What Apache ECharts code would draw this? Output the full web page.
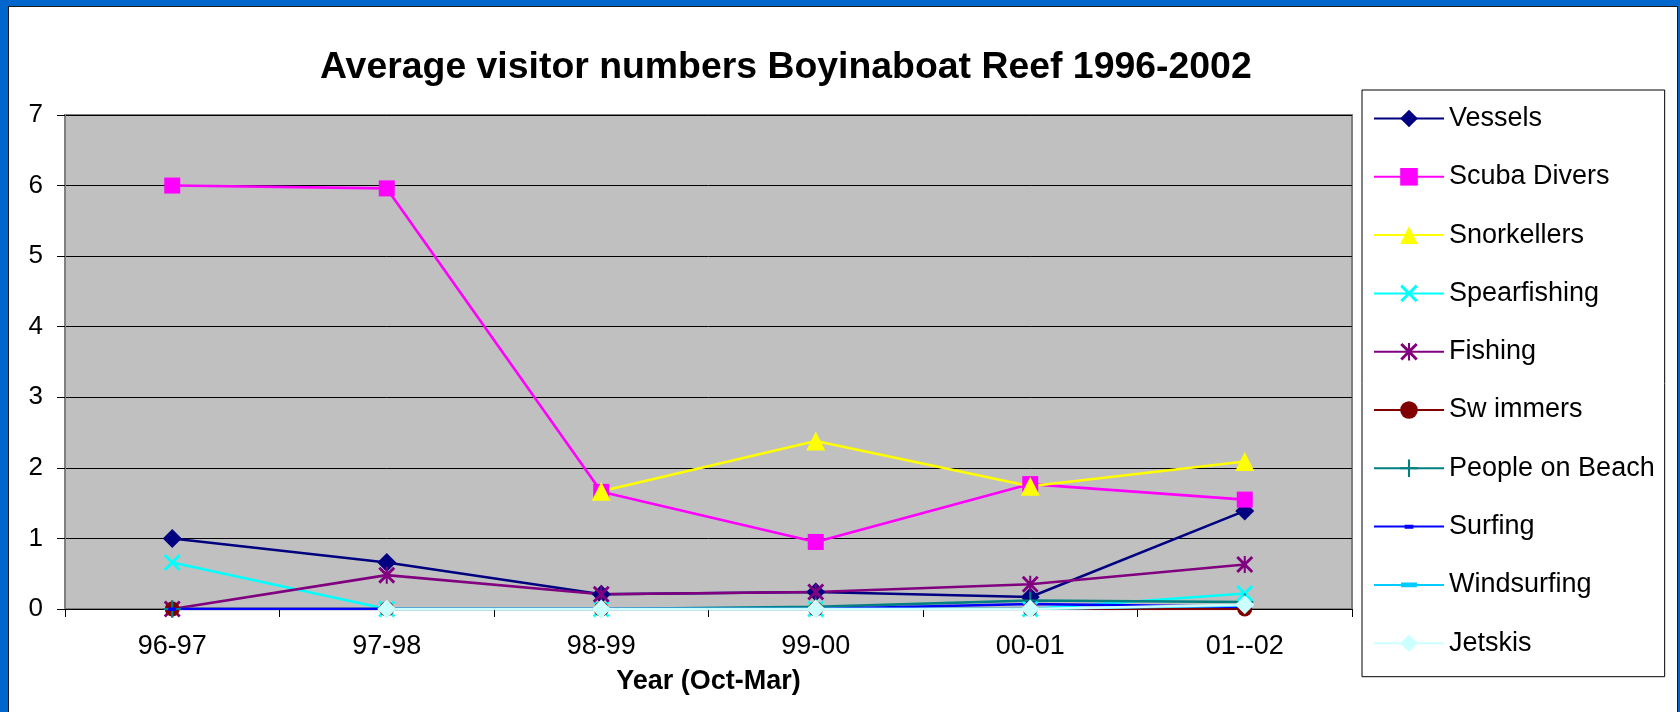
<!DOCTYPE html>
<html>
<head>
<meta charset="utf-8">
<script src="https://cdn.jsdelivr.net/npm/echarts@6/dist/echarts.min.js"></script>
<style>
  html, body { margin: 0; padding: 0; width: 1680px; height: 712px; overflow: hidden; background: #0066cc; }
  #frame { position: absolute; left: 8px; top: 6px; width: 1668px; height: 720px; background: #ffffff; border: 1px solid #1a1a1a; }
  #chart { position: absolute; left: 0; top: 0; width: 1680px; height: 712px; }
</style>
</head>
<body>
<div id="frame"></div>
<div id="chart"></div>
<script>
const categories = ['96-97', '97-98', '98-99', '99-00', '00-01', '01--02'];
const seriesNames = ['Vessels', 'Scuba Divers', 'Snorkellers', 'Spearfishing', 'Fishing', 'Sw immers', 'People on Beach', 'Surfing', 'Windsurfing', 'Jetskis'];
const vessels       = [1.0, 0.66, 0.21, 0.24, 0.17, 1.39];
const scubaDivers   = [6.0, 5.96, 1.66, 0.95, 1.77, 1.55];
const snorkellers   = [null, null, 1.67, 2.38, 1.74, 2.09];
const spearfishing  = [0.66, 0, 0, 0, 0, 0.22];
const fishing       = [0, 0.48, 0.21, 0.24, 0.35, 0.63];
const swimmers      = [0, 0, 0, 0, 0, 0];
const peopleOnBeach = [0, 0, 0, 0.03, 0.12, 0.1];
const surfing       = [0, 0, 0, 0, 0.07, 0.03];
const windsurfing   = [null, 0, 0, 0, 0, 0.05];
const jetskis       = [null, 0, 0, 0, 0, 0.06];
const yTicks = [0, 1, 2, 3, 4, 5, 6, 7];

const FONT = '"Liberation Sans", Arial, sans-serif';
const X_PATH = 'path://M0,1.2 L1.2,0 L5,3.8 L8.8,0 L10,1.2 L6.2,5 L10,8.8 L8.8,10 L5,6.2 L1.2,10 L0,8.8 L3.8,5 Z';
const STAR_PATH = 'path://M0,1.2 L1.2,0 L5,3.8 L8.8,0 L10,1.2 L6.2,5 L10,8.8 L8.8,10 L5,6.2 L1.2,10 L0,8.8 L3.8,5 Z M4.4,0 L5.6,0 L5.6,10 L4.4,10 Z';
const PLUS_PATH = 'path://M4.4,0 L5.6,0 L5.6,4.4 L10,4.4 L10,5.6 L5.6,5.6 L5.6,10 L4.4,10 L4.4,5.6 L0,5.6 L0,4.4 L4.4,4.4 Z';
const SHORT_DASH = 'path://M0,0 L0.01,0 L0,0.01 Z M2.5,4 L7.5,4 L7.5,6.2 L2.5,6.2 Z M9.99,10 L10,10 L10,9.99 Z';
const LONG_DASH = 'path://M0,0 L0.01,0 L0,0.01 Z M0.5,3.6 L9.5,3.6 L9.5,6.4 L0.5,6.4 Z M9.99,10 L10,10 L10,9.99 Z';

const styles = [
  { data: vessels,       color: '#000080', symbol: 'diamond', size: 19 },
  { data: scubaDivers,   color: '#ff00ff', symbol: 'rect', size: 16 },
  { data: snorkellers,   color: '#ffff00', symbol: 'triangle', size: 19 },
  { data: spearfishing,  color: '#00ffff', symbol: X_PATH, size: 17 },
  { data: fishing,       color: '#800080', symbol: STAR_PATH, size: 17 },
  { data: swimmers,      color: '#800000', symbol: 'circle', size: 15 },
  { data: peopleOnBeach, color: '#008080', symbol: PLUS_PATH, size: 17 },
  { data: surfing,       color: '#0000ff', symbol: SHORT_DASH, size: 16 },
  { data: windsurfing,   color: '#00ccff', symbol: LONG_DASH, size: 16 },
  { data: jetskis,       color: '#ccffff', symbol: 'diamond', size: 19 }
];

const series = styles.map((s, i) => ({
  name: seriesNames[i],
  type: 'line',
  data: s.data,
  symbol: s.symbol,
  symbolSize: s.size,
  showSymbol: true,
  showAllSymbol: true,
  connectNulls: false,
  lineStyle: { color: s.color, width: 2.6 },
  itemStyle: { color: s.color },
  emphasis: { disabled: true },
  animation: false
}));

const chart = echarts.init(document.getElementById('chart'), null, { renderer: 'canvas' });
chart.setOption({
  backgroundColor: 'transparent',
  animation: false,
  textStyle: { fontFamily: FONT, color: '#000' },
  title: {
    text: 'Average visitor numbers Boyinaboat Reef 1996-2002',
    left: 320,
    top: 49,
    padding: 0,
    textStyle: { fontFamily: FONT, fontSize: 37.4, fontWeight: 'bold', color: '#000' }
  },
  legend: {
    orient: 'vertical',
    left: 1362,
    top: 90,
    padding: [15, 10, 20, 11],
    backgroundColor: '#ffffff',
    borderColor: '#000000',
    borderWidth: 1,
    itemWidth: 70,
    itemHeight: 22,
    itemGap: 31.3,
    selectedMode: false,
    data: seriesNames,
    textStyle: { fontFamily: FONT, fontSize: 27, lineHeight: 26, color: '#000' }
  },
  grid: {
    left: 65, right: 328, top: 115, bottom: 103,
    show: true,
    backgroundColor: '#c0c0c0',
    borderColor: '#808080',
    borderWidth: 2
  },
  xAxis: {
    type: 'category',
    data: categories,
    boundaryGap: true,
    name: 'Year (Oct-Mar)',
    nameLocation: 'middle',
    nameGap: 59,
    nameTextStyle: { fontFamily: FONT, fontSize: 27, fontWeight: 'bold', color: '#000' },
    axisLine: { show: true, lineStyle: { color: '#000', width: 1 } },
    axisTick: { show: true, length: 8, alignWithLabel: false, interval: 0, lineStyle: { color: '#000' } },
    axisLabel: { fontFamily: FONT, fontSize: 27, color: '#000', margin: 24, interval: 0 },
    splitLine: { show: false }
  },
  yAxis: {
    type: 'value',
    min: yTicks[0],
    max: yTicks[yTicks.length - 1],
    interval: 1,
    axisLine: { show: true, lineStyle: { color: '#808080', width: 2 } },
    axisTick: { show: true, length: 8, lineStyle: { color: '#000' } },
    axisLabel: { fontFamily: FONT, fontSize: 26, color: '#000', margin: 22 },
    splitLine: { show: true, lineStyle: { color: '#000', width: 1 } }
  },
  series: series
});
</script>
</body>
</html>
